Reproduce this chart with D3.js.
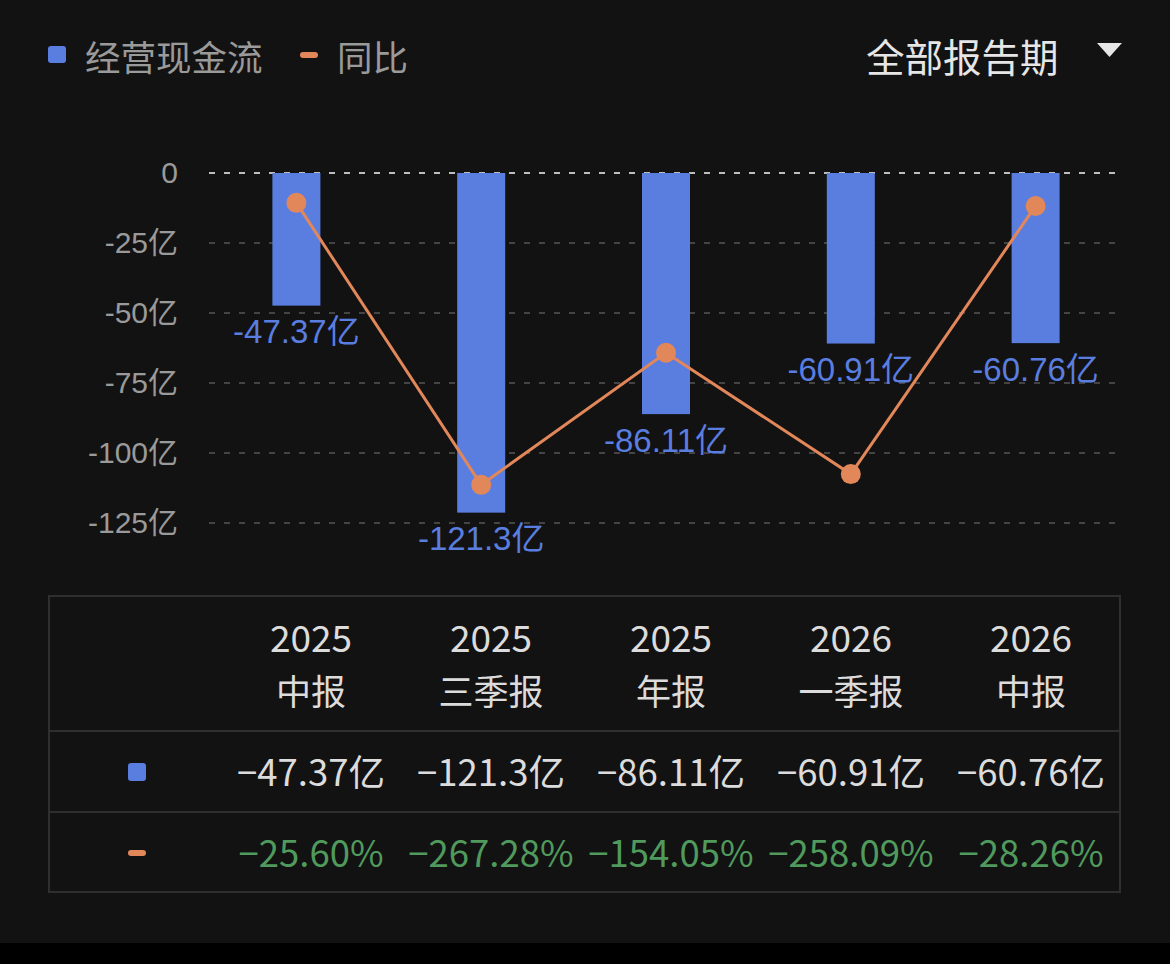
<!DOCTYPE html>
<html>
<head>
<meta charset="utf-8">
<script src="https://cdn.jsdelivr.net/npm/d3@7/dist/d3.min.js"></script>
<style>
html,body{margin:0;padding:0;background:#121212;}
svg{display:block;}
</style>
</head>
<body>
<svg id="chart" width="1170" height="964"></svg>
<script>
// ---- data ----
const years = ["2025", "2025", "2025", "2026", "2026"];
const periods = ["中报", "三季报", "年报", "一季报", "中报"];
const cashFlow = [-47.37, -121.3, -86.11, -60.91, -60.76];           // 亿
const cashFlowLabels = ["-47.37亿", "-121.3亿", "-86.11亿", "-60.91亿", "-60.76亿"];
const yoy = [-25.60, -267.28, -154.05, -258.09, -28.26];              // %
const yoyLabels = ["−25.60%", "−267.28%", "−154.05%", "−258.09%", "−28.26%"];
const tableCashLabels = ["−47.37亿", "−121.3亿", "−86.11亿", "−60.91亿", "−60.76亿"];
const yTicks = [0, -25, -50, -75, -100, -125];
const yTickLabels = ["0", "-25亿", "-50亿", "-75亿", "-100亿", "-125亿"];
const legendNames = ["经营现金流", "同比"];
const periodSelector = "全部报告期";

const keys = years.map((y, i) => i);

const BLUE = "#5a7ee0", ORANGE = "#e2875a", GREEN = "#4f9a5c";
const CJK = "'Noto Sans CJK SC', sans-serif";
const LAT = "'Liberation Sans', Arial, 'Noto Sans CJK SC', sans-serif";

const svg = d3.select("#chart");
svg.append("rect").attr("width", 1170).attr("height", 964).attr("fill", "#121212");
svg.append("rect").attr("x", 0).attr("y", 943).attr("width", 1170).attr("height", 21).attr("fill", "#000");

// ---- scales ----
const x = d3.scaleBand().domain(keys).range([204, 1128]).padding(0);
const y = d3.scaleLinear().domain([0, -125]).range([173, 523]);
const y2 = d3.scaleLinear().domain([0, -300]).range([173, 523]);
const barW = 48;
const cx = i => x(i) + x.bandwidth() / 2;

// ---- legend ----
const lg = svg.append("g");
lg.append("rect").attr("x", 48).attr("y", 46).attr("width", 18).attr("height", 17).attr("rx", 3).attr("fill", BLUE);
lg.append("text").attr("x", 85).attr("y", 55).attr("dominant-baseline", "central")
  .attr("font-family", CJK).attr("font-size", 35.5).attr("fill", "#9a9a9a").text(legendNames[0]);
lg.append("rect").attr("x", 300).attr("y", 52).attr("width", 18).attr("height", 6).attr("rx", 3).attr("fill", ORANGE);
lg.append("text").attr("x", 337).attr("y", 55).attr("dominant-baseline", "central")
  .attr("font-family", CJK).attr("font-size", 35.5).attr("fill", "#9a9a9a").text(legendNames[1]);

svg.append("text").attr("x", 866).attr("y", 55).attr("dominant-baseline", "central")
  .attr("font-family", CJK).attr("font-size", 38.5).attr("fill", "#e6e6e6").text(periodSelector);
svg.append("path").attr("d", "M1097,43 L1122,43 L1109.5,57 Z").attr("fill", "#e6e6e6");

// ---- grid + y axis ----
const grid = svg.append("g");
yTicks.forEach((t, i) => {
  grid.append("line").attr("x1", 209).attr("x2", 1115).attr("y1", y(t)).attr("y2", y(t))
    .attr("stroke", t === 0 ? "#bdbdbd" : "#444").attr("stroke-width", 2)
    .attr("stroke-dasharray", "6,9");
});
const yAxis = d3.axisLeft(y).tickValues(yTicks).tickFormat((d, i) => yTickLabels[i]).tickSize(0).tickPadding(0);
const ga = svg.append("g").attr("transform", "translate(178,0)").call(yAxis);
ga.select(".domain").remove();
ga.selectAll("text").attr("font-family", LAT).attr("font-size", 30).attr("fill", "#9a9a9a");

// ---- bars ----
svg.append("g").selectAll("rect").data(cashFlow).join("rect")
  .attr("x", (d, i) => cx(i) - barW / 2)
  .attr("y", y(0))
  .attr("width", barW)
  .attr("height", d => y(d) - y(0))
  .attr("fill", BLUE);

svg.append("g").selectAll("text").data(cashFlow).join("text")
  .attr("x", (d, i) => cx(i))
  .attr("y", d => y(d) + 26)
  .attr("text-anchor", "middle").attr("dominant-baseline", "central")
  .attr("font-family", LAT).attr("font-size", 33).attr("fill", BLUE)
  .text((d, i) => cashFlowLabels[i]);

// ---- line ----
const line = d3.line().x((d, i) => cx(i)).y(d => y2(d));
svg.append("path").datum(yoy).attr("d", line).attr("fill", "none")
  .attr("stroke", ORANGE).attr("stroke-width", 3);
svg.append("g").selectAll("circle").data(yoy).join("circle")
  .attr("cx", (d, i) => cx(i)).attr("cy", d => y2(d)).attr("r", 10).attr("fill", ORANGE);

// ---- table ----
const tx = d3.scaleBand().domain(keys).range([221, 1121]);
const tcx = i => tx(i) + tx.bandwidth() / 2;
const tb = svg.append("g");
tb.append("rect").attr("x", 49).attr("y", 596).attr("width", 1071).attr("height", 296)
  .attr("fill", "none").attr("stroke", "#2f2f2f").attr("stroke-width", 2);
[731, 812].forEach(v => tb.append("line").attr("x1", 49).attr("x2", 1120).attr("y1", v).attr("y2", v)
  .attr("stroke", "#2f2f2f").attr("stroke-width", 2));

tb.selectAll("text.yr").data(years).join("text").attr("class", "yr")
  .attr("x", (d, i) => tcx(i)).attr("y", 636).attr("text-anchor", "middle").attr("dominant-baseline", "central")
  .attr("font-family", CJK).attr("font-size", 37).attr("fill", "#dcdcdc").text(d => d);
tb.selectAll("text.pd").data(periods).join("text").attr("class", "pd")
  .attr("x", (d, i) => tcx(i)).attr("y", 689).attr("text-anchor", "middle").attr("dominant-baseline", "central")
  .attr("font-family", CJK).attr("font-size", 35).attr("fill", "#dcdcdc").text(d => d);

tb.append("rect").attr("x", 128).attr("y", 763).attr("width", 18).attr("height", 18).attr("rx", 3).attr("fill", BLUE);
tb.append("rect").attr("x", 128).attr("y", 850).attr("width", 18).attr("height", 6).attr("rx", 3).attr("fill", ORANGE);

tb.selectAll("text.cf").data(tableCashLabels).join("text").attr("class", "cf")
  .attr("x", (d, i) => tcx(i)).attr("y", 770).attr("text-anchor", "middle").attr("dominant-baseline", "central")
  .attr("font-family", CJK).attr("font-size", 36.5).attr("fill", "#dcdcdc").text(d => d);
tb.selectAll("text.yy").data(yoyLabels).join("text").attr("class", "yy")
  .attr("x", (d, i) => tcx(i)).attr("y", 851).attr("text-anchor", "middle").attr("dominant-baseline", "central")
  .attr("font-family", CJK).attr("font-size", 36.5).attr("fill", GREEN).text(d => d);
</script>
</body>
</html>
